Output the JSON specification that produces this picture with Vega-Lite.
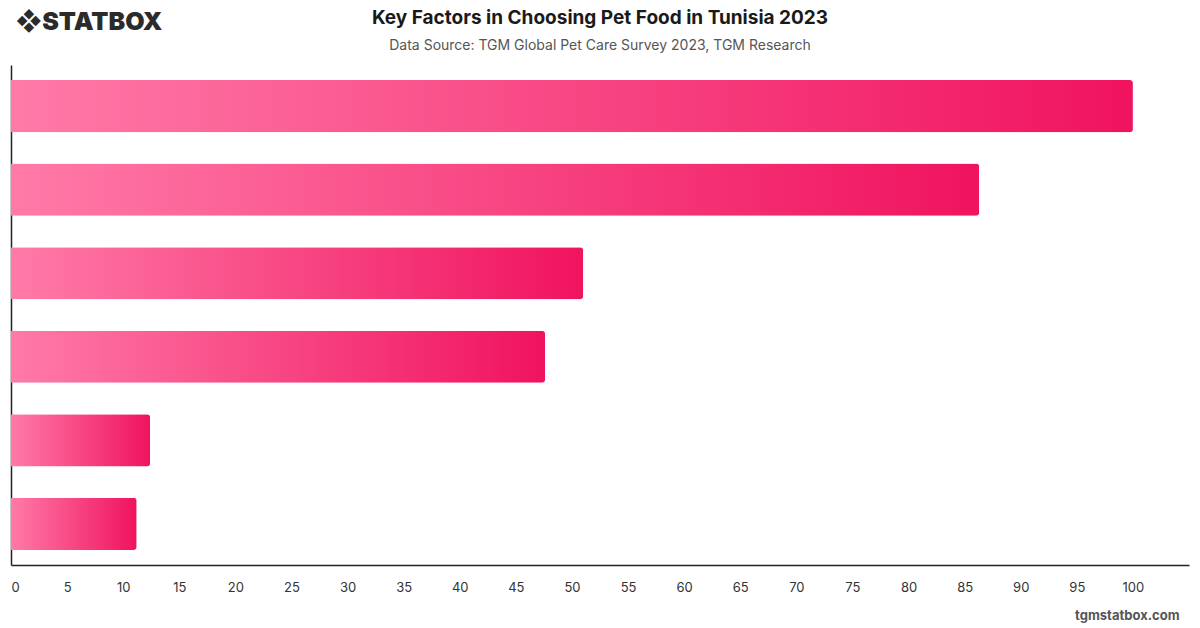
{
  "$schema": "https://vega.github.io/schema/vega-lite/v6.json",
  "autosize": {"type": "none"},
  "width": 1178,
  "height": 500,
  "padding": {"left": 11, "top": 65, "right": 11, "bottom": 63},
  "background": "white",
  "title": {
    "text": "Key Factors in Choosing Pet Food in Tunisia 2023",
    "subtitle": "Data Source: TGM Global Pet Care Survey 2023, TGM Research",
    "frame": "group",
    "anchor": "middle",
    "offset": 14,
    "dy": 58,
    "font": "Inter",
    "fontSize": 19,
    "fontWeight": "bold",
    "color": "#1a1a1a",
    "subtitleFont": "Inter",
    "subtitleFontSize": 14,
    "subtitleColor": "#555555",
    "subtitlePadding": 11
  },
  "data": {
    "values": [
      {"factor": "Factor A", "share": 100},
      {"factor": "Factor B", "share": 86.3},
      {"factor": "Factor C", "share": 51.0},
      {"factor": "Factor D", "share": 47.6},
      {"factor": "Factor E", "share": 12.4},
      {"factor": "Factor F", "share": 11.2}
    ]
  },
  "mark": {
    "type": "bar",
    "cornerRadiusEnd": 3,
    "color": {
      "gradient": "linear",
      "x1": 0, "y1": 0, "x2": 1, "y2": 0,
      "stops": [
        {"offset": 0, "color": "#ff7aa8"},
        {"offset": 1, "color": "#f0135f"}
      ]
    }
  },
  "encoding": {
    "y": {
      "field": "factor",
      "type": "nominal",
      "sort": {"field": "share", "order": "descending"},
      "scale": {"paddingInner": 0.376, "paddingOuter": 0.18},
      "axis": {
        "title": "❖STATBOX",
        "titleAngle": 0,
        "titleAnchor": "end",
        "titleAlign": "left",
        "titleBaseline": "middle",
        "titleX": 4,
        "titleY": -44,
        "titleFont": "Inter",
        "titleFontSize": 25,
        "titleFontWeight": 900,
        "titleColor": "#2b2b2b",
        "labels": false,
        "ticks": false,
        "domainColor": "#222222",
        "domainWidth": 1.5
      }
    },
    "x": {
      "field": "share",
      "type": "quantitative",
      "scale": {"domain": [0, 105], "nice": false},
      "axis": {
        "values": [0, 5, 10, 15, 20, 25, 30, 35, 40, 45, 50, 55, 60, 65, 70, 75, 80, 85, 90, 95, 100],
        "grid": false,
        "ticks": false,
        "labelPadding": 16,
        "labelFont": "Inter",
        "labelFontSize": 13,
        "labelColor": "#333333",
        "domainColor": "#222222",
        "domainWidth": 1.5,
        "title": "tgmstatbox.com",
        "titleFont": "Inter",
        "titleFontSize": 13,
        "titleFontWeight": "bold",
        "titleColor": "#555555",
        "titleAnchor": "end",
        "titleAlign": "right",
        "titleBaseline": "middle",
        "titleX": 1168,
        "titleY": 50
      }
    }
  },
  "config": {"view": {"stroke": null}}
}
